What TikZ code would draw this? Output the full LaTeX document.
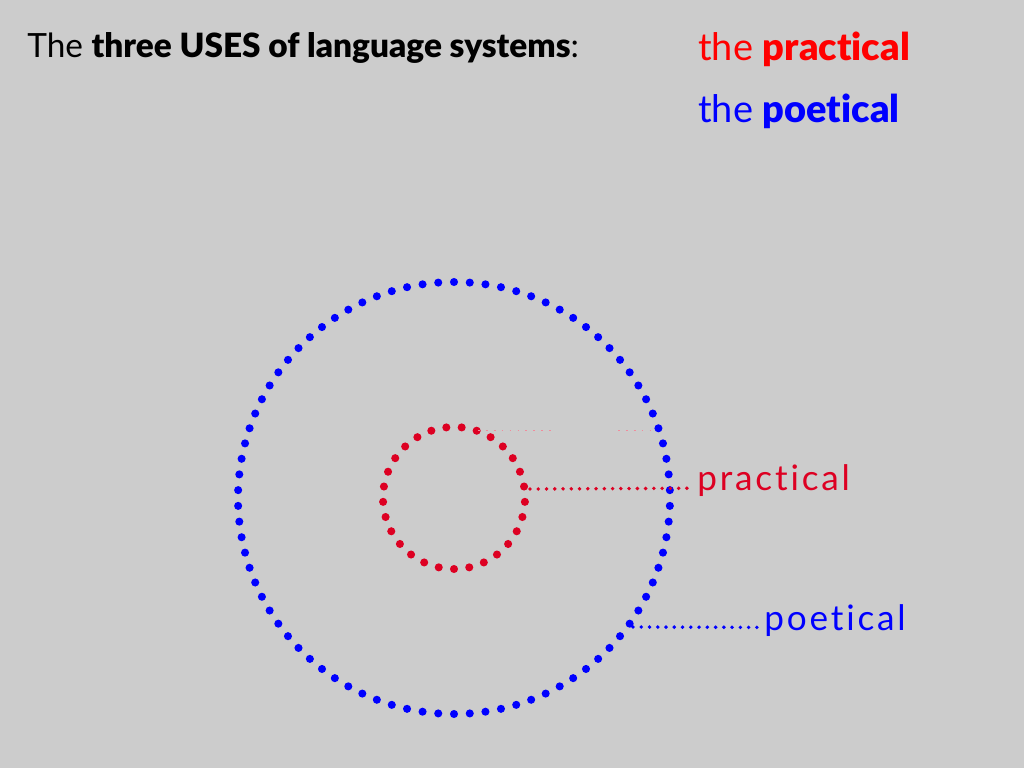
\documentclass[tikz,border=0pt]{standalone}
\usepackage{fontspec}
\setmainfont{Lato}[Ligatures=NoCommon, BoldFont=Lato Black]
\usepackage{tikz}
\usetikzlibrary{positioning}
\definecolor{bgGrey}{HTML}{CCCCCC}
\definecolor{pracRed}{HTML}{DD0022}
\definecolor{headRed}{HTML}{FF0000}
\definecolor{poetBlue}{HTML}{0000FF}
\tikzstyle{head}=[anchor=base west, inner sep=0pt, font=\fontsize{19}{22}\selectfont]
\tikzstyle{headR}=[anchor=base west, inner sep=0pt, font=\fontsize{21.6}{25}\selectfont]
\tikzstyle{lbl}=[anchor=base west, inner sep=0pt, font=\fontsize{20}{24}\selectfont\addfontfeatures{LetterSpace=8}]
\tikzstyle{dotline}=[line width=2.2pt, line cap=round, dash pattern=on 0pt off 4.7pt]
\tikzstyle{faint}=[line width=0.4pt, pracRed!45, dash pattern=on 1pt off 3.5pt]

\begin{document}
\begin{tikzpicture}[x=0.02cm, y=-0.02cm]
\fill[bgGrey] (0,0) rectangle (1024,768);
\useasboundingbox (0,0) rectangle (1024,768);

% headings
\node[head] (title) at (27,57) {The \textbf{three USES of language systems}:};
\node[headR, text=headRed] (hdPrac) at (698,60) {the \textbf{practical}};
\node[headR, text=poetBlue] (hdPoet) at (698,122) {the \textbf{poetical}};

% circles
\coordinate (ctr) at (454,498);
\foreach \i [evaluate=\i as \a using 90+\i*4.18605] in {0,...,85}
  \fill[poetBlue] (ctr) ++(\a:216) circle (2.3pt);
\foreach \i [evaluate=\i as \a using 90+\i*12.41379] in {0,...,28}
  \fill[pracRed] (ctr) ++(\a:71) circle (2.3pt);

% labels
\node[lbl, text=pracRed] (pracLbl) at (697,490) {practical};
\node[lbl, text=poetBlue] (poetLbl) at (764,630) {poetical};

% connectors
\coordinate (pracEnd) at (530,489);
\coordinate (poetEnd) at (633,627);
\draw[dotline, pracRed] (pracEnd) -- ([xshift=-5pt,yshift=1pt]pracLbl.base west);
\draw[dotline, poetBlue] (poetEnd) -- ([xshift=-3pt,yshift=1.5pt]poetLbl.base west);

% faint top line
\coordinate (topA) at (478,430);
\coordinate (topB) at (555,430);
\coordinate (topC) at (618,430);
\coordinate (topD) at (656,430);
\draw[faint] (topA) -- (topB);
\draw[faint] (topC) -- (topD);
\end{tikzpicture}
\end{document}
